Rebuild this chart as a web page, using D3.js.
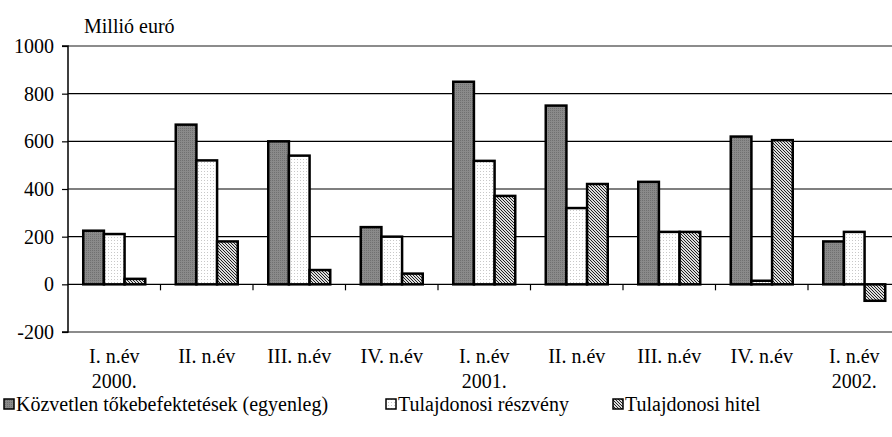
<!DOCTYPE html>
<html><head><meta charset="utf-8">
<script src="https://cdn.jsdelivr.net/npm/d3@7"></script>
<style>body{margin:0;background:#fff}svg{display:block}</style>
</head><body>
<svg id="c" width="892" height="437"></svg>
<script>
const categories = ["I. n.év|2000.","II. n.év","III. n.év","IV. n.év","I. n.év|2001.","II. n.év","III. n.év","IV. n.év","I. n.év|2002."];
const seriesNames = ["Közvetlen tőkebefektetések (egyenleg)","Tulajdonosi részvény","Tulajdonosi hitel"];
const kozvetlen = [225,670,600,240,850,750,430,620,180];
const reszveny = [211,520,540,200,518,320,220,15,220];
const hitel = [23,180,60,45,371,421,220,605,-69];
const yTicks = [-200,0,200,400,600,800,1000];
const unitLabel = "Millió euró";

const FONT = "Liberation Serif, Times New Roman, DejaVu Serif, serif";
const FS = 20;
const svg = d3.select("#c");
const defs = svg.append("defs");
const p1 = defs.append("pattern").attr("id","p1").attr("patternUnits","userSpaceOnUse").attr("width",2).attr("height",2);
p1.append("rect").attr("width",2).attr("height",2).attr("fill","#8a8a8a");
p1.append("rect").attr("width",1).attr("height",1).attr("fill","#707070");
const p2 = defs.append("pattern").attr("id","p2").attr("patternUnits","userSpaceOnUse").attr("width",3).attr("height",3);
p2.append("rect").attr("width",3).attr("height",3).attr("fill","#fff");
p2.append("rect").attr("width",1).attr("height",1).attr("fill","#c8c8c8");
const p3 = defs.append("pattern").attr("id","p3").attr("patternUnits","userSpaceOnUse").attr("width",3).attr("height",3);
p3.append("rect").attr("width",3).attr("height",3).attr("fill","#dcdcdc");
p3.append("path").attr("d","M0,0 L3,3 M-1,2 L1,4 M2,-1 L4,1").attr("stroke","#222").attr("stroke-width",1);
const fills = ["url(#p1)","url(#p2)","url(#p3)"];

const x0 = 68, x1 = 900.5, yTop = 46, yBot = 332;
const x = d3.scaleBand().domain(d3.range(categories.length)).range([x0,x1]).padding(0);
const y = d3.scaleLinear().domain([-200,1000]).range([yBot,yTop]);
const xs = d3.scaleBand().domain([0,1,2]).range([0,62]);

svg.append("g").selectAll("line").data(yTicks).join("line")
  .attr("x1",x0).attr("x2",x1).attr("y1",d=>y(d)).attr("y2",d=>y(d))
  .attr("stroke",d=>(d===1000||d===-200)?"#8c8c8c":"#000")
  .attr("stroke-width",d=>(d===1000||d===-200)?2:1.2);

const yAxis = d3.axisLeft(y).tickValues(yTicks).tickSize(6).tickPadding(8).tickFormat(d=>String(d));
const ga = svg.append("g").attr("transform",`translate(${x0},0)`).call(yAxis);
ga.attr("font-family",FONT).attr("font-size",FS);
ga.select(".domain").attr("stroke","#000").attr("stroke-width",1.5).attr("d",`M-6,${y(1000)}H0V${y(-200)}H-6`);
ga.selectAll(".tick line").attr("stroke","#000").attr("stroke-width",1.2);
ga.selectAll(".tick text").style("font-family",FONT).style("font-size",FS+"px").attr("fill","#000");

svg.append("g").selectAll("line").data(d3.range(1,categories.length+1)).join("line")
  .attr("x1",i=>x0+i*x.bandwidth()).attr("x2",i=>x0+i*x.bandwidth())
  .attr("y1",y(0)).attr("y2",y(0)+6).attr("stroke","#000").attr("stroke-width",1.2);

const data = [kozvetlen,reszveny,hitel];
data.forEach((vals,s)=>{
  svg.append("g").selectAll("rect").data(vals).join("rect")
    .attr("x",(d,i)=>x(i)+(x.bandwidth()-62)/2+xs(s))
    .attr("width",xs.bandwidth())
    .attr("y",d=>y(Math.max(0,d)))
    .attr("height",d=>Math.abs(y(d)-y(0)))
    .attr("fill",fills[s]).attr("stroke","#000").attr("stroke-width",2.5);
});

svg.append("text").attr("x",84).attr("y",33).style("font-family",FONT).style("font-size",FS+"px").text(unitLabel);

const cl = svg.append("g").selectAll("text").data(categories).join("text")
  .attr("x",(d,i)=>x(i)+x.bandwidth()/2).attr("text-anchor","middle")
  .style("font-family",FONT).style("font-size",FS+"px");
cl.each(function(d){
  const parts = d.split("|");
  const t = d3.select(this);
  parts.forEach((p,k)=>t.append("tspan").attr("x",t.attr("x")).attr("y",k===0?363:388).text(p));
});

const legX = [3,385,612];
const lg = svg.append("g").selectAll("g").data(seriesNames).join("g")
  .attr("transform",(d,i)=>`translate(${legX[i]},0)`);
lg.append("rect").attr("x",1).attr("y",399).attr("width",10).attr("height",10)
  .attr("fill",(d,i)=>fills[i]).attr("stroke","#000").attr("stroke-width",1.5);
lg.append("text").attr("x",13).attr("y",411).style("font-family",FONT).style("font-size",FS+"px").text(d=>d);
</script>
</body></html>
